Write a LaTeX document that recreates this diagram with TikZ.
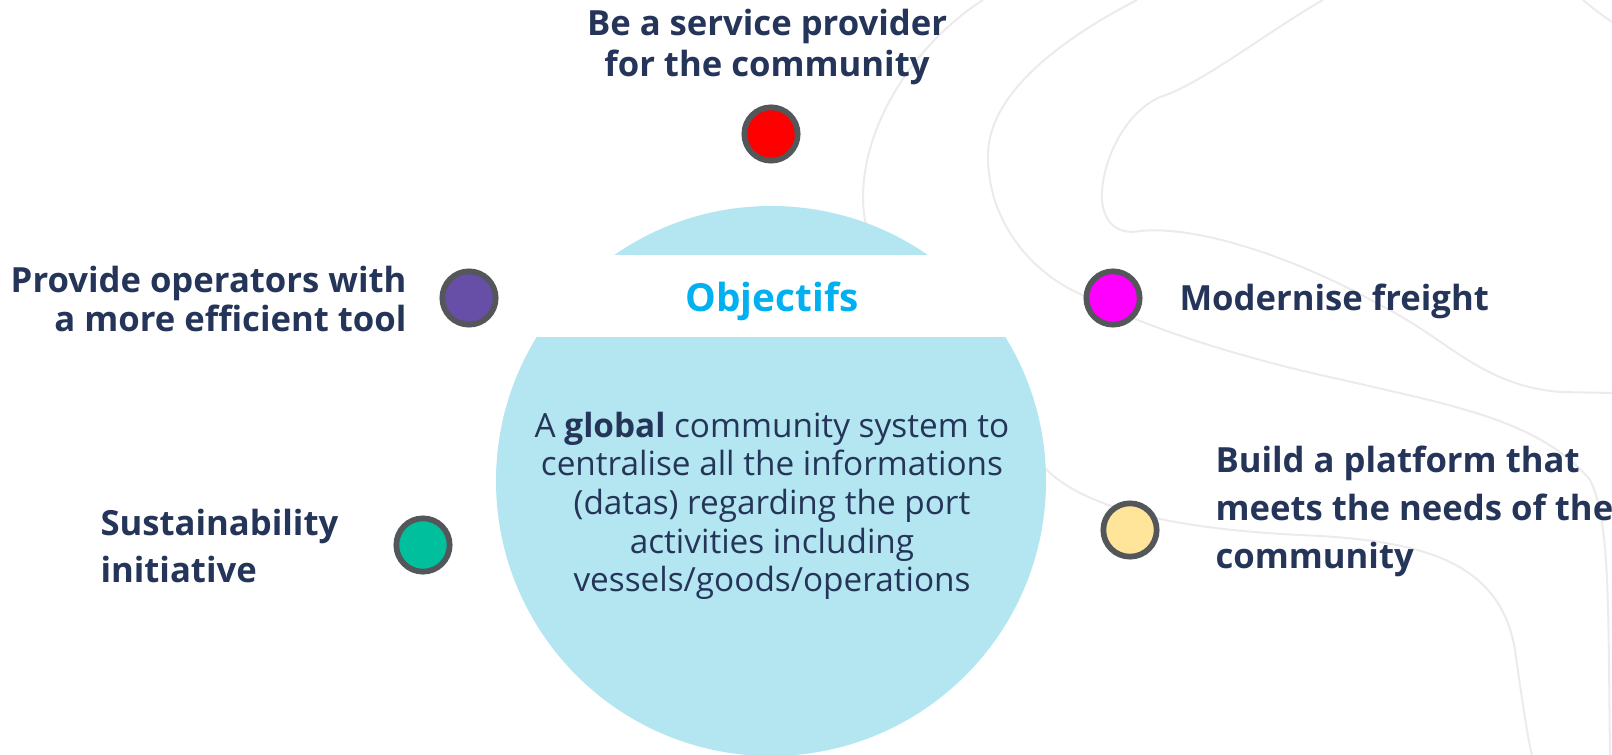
\documentclass[tikz,border=0pt]{standalone}
\usepackage{fontspec}
\setmainfont{Open Sans}
\definecolor{navy}{HTML}{253559}
\definecolor{skyblue}{HTML}{00B0F0}
\definecolor{paleblue}{HTML}{B3E6F0}
\definecolor{ringgrey}{HTML}{53575A}
\definecolor{curvegrey}{HTML}{EBEBEB}
\definecolor{dotpurple}{HTML}{674EA7}
\definecolor{dotmagenta}{HTML}{FF00FF}
\definecolor{dotteal}{HTML}{00BF9C}
\definecolor{dotyellow}{HTML}{FFE599}

\tikzset{every picture/.style={line width=0.75pt}}
\tikzset{
  goaldot/.style={circle, draw=ringgrey, line width=4.3pt, minimum size=40pt, inner sep=0pt},
  goaltext/.style={inner sep=0pt, text=navy, font=\fontsize{26}{29}\selectfont\bfseries},
  contour/.style={draw=curvegrey, line width=1.5pt}
}

\begin{document}
\begin{tikzpicture}[x=0.75pt,y=0.75pt,yscale=-1,xscale=1]
		\useasboundingbox (0,0) rectangle (1612,755);

		%Contour lines
		\draw [contour] (983,0) .. controls (920,40) and (862,120) .. (863,200) .. controls (865,300) and (1000,440) .. (1045,468) .. controls (1090,515) and (1200,530) .. (1300,535) .. controls (1420,540) and (1500,560) .. (1515,650) .. controls (1522,700) and (1528,740) .. (1532,755) ;
		\draw [contour] (1137,0) .. controls (1050,45) and (985,100) .. (988,160) .. controls (990,230) and (1040,280) .. (1090,298) .. controls (1150,330) and (1250,360) .. (1343,380) .. controls (1450,405) and (1540,420) .. (1590,480) .. controls (1610,520) and (1608,600) .. (1610,755) ;
		\draw [contour] (1323,0) .. controls (1270,30) and (1200,85) .. (1160,97) .. controls (1120,115) and (1100,170) .. (1102,200) .. controls (1104,225) and (1120,235) .. (1140,231) .. controls (1200,225) and (1300,260) .. (1380,305) .. controls (1450,340) and (1480,385) .. (1560,392) -- (1612,393) ;
		\draw [contour] (1583,0) .. controls (1595,10) .. (1612,22) ;

		%Big circle with band
		\fill [paleblue] (771,481) circle [radius=275] ;
		\begin{scope}
		\clip (771,481) circle [radius=276] ;
		\fill [white] (480,255) rectangle (1070,337) ;
		\end{scope}

		% Title Node
		\draw (772,301) node [inner sep=0pt, text=skyblue, font=\fontsize{29}{32}\selectfont\bfseries] (objectifs) {Objectifs};
		% Text Node
		\draw (772,506) node [inner sep=0pt, align=center, text=navy, font=\fontsize{25}{29}\selectfont] (summary) {A \textbf{global} community system to\\centralise all the informations\\(datas) regarding the port\\activities including\\vessels/goods/operations};

		% Dots
		\draw (771,134) node [goaldot, fill=red] (provider) {};
		\draw (469,298) node [goaldot, fill=dotpurple] (operators) {};
		\draw (1113,298) node [goaldot, fill=dotmagenta] (freight) {};
		\draw (423,545) node [goaldot, fill=dotteal] (sustain) {};
		\draw (1130,530) node [goaldot, fill=dotyellow] (platform) {};

		% Text Node
		\draw (767,47) node [goaltext, align=center, font=\fontsize{26}{31}\selectfont\bfseries] (providertext) {Be a service provider\\for the community};
		% Text Node
		\draw (407,299) node [goaltext, anchor=east, align=right] (operatorstext) {Provide operators with\\a more efficient tool};
		% Text Node
		\draw (1179,301) node [goaltext, anchor=west] (freighttext) {Modernise freight};
		% Text Node
		\draw (100,546) node [goaltext, anchor=west, align=left, font=\fontsize{26}{35}\selectfont\bfseries] (sustaintext) {Sustainability\\initiative};
		% Text Node
		\draw (1215,511) node [goaltext, anchor=west, align=left, font=\fontsize{26}{36}\selectfont\bfseries] (platformtext) {Build a platform that\\meets the needs of the\\community};

\end{tikzpicture}
\end{document}
